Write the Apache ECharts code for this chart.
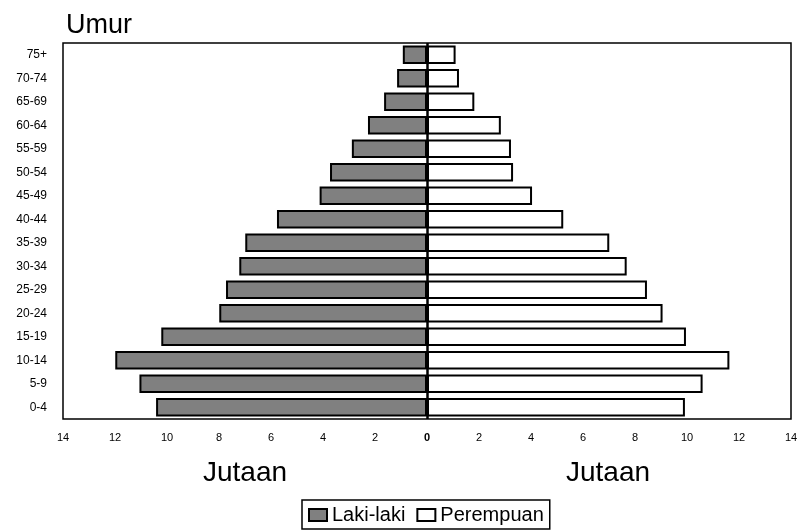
<!DOCTYPE html>
<html>
<head>
<meta charset="utf-8">
<script src="https://cdn.jsdelivr.net/npm/echarts@6/dist/echarts.min.js"></script>
<style>
html,body{margin:0;padding:0;background:#fff;}
#c{width:801px;height:531px;}
</style>
</head>
<body>
<div id="c"></div>
<script>
const ageGroups = ['0-4','5-9','10-14','15-19','20-24','25-29','30-34','35-39','40-44','45-49','50-54','55-59','60-64','65-69','70-74','75+'];
const male = [10.42, 11.06, 11.99, 10.22, 7.99, 7.73, 7.22, 6.99, 5.77, 4.13, 3.73, 2.89, 2.27, 1.65, 1.15, 0.93];
const female = [9.92, 10.60, 11.63, 9.96, 9.06, 8.46, 7.68, 7.01, 5.24, 4.04, 3.31, 3.23, 2.84, 1.82, 1.23, 1.10];
const seriesNames = ['Laki-laki', 'Perempuan'];
const titleText = 'Umur';
const unitText = 'Jutaan';

const FONT = '"Liberation Sans", Arial, sans-serif';
const chart = echarts.init(document.getElementById('c'), null, {renderer: 'canvas'});
chart.setOption({
  animation: false,
  backgroundColor: '#fff',
  textStyle: {fontFamily: FONT, color: '#000'},
  title: {
    text: titleText, left: 61, top: 7,
    textStyle: {fontFamily: FONT, fontSize: 27, fontWeight: 'normal', color: '#000'}
  },
  grid: {
    left: 63, right: 10, top: 43, bottom: 112,
    show: true, borderColor: '#000', borderWidth: 1.5, backgroundColor: 'transparent'
  },
  xAxis: {
    type: 'value', min: -14, max: 14, interval: 2,
    axisLine: {show: false}, axisTick: {show: false}, splitLine: {show: false},
    axisLabel: {
      margin: 13, fontSize: 11, color: '#000', fontFamily: FONT,
      formatter: function (v) { return v === 0 ? '{b|0}' : String(Math.abs(v)); },
      rich: {b: {fontWeight: 'bold', fontSize: 11, fontFamily: FONT, color: '#000'}}
    }
  },
  yAxis: {
    type: 'category', data: ageGroups,
    axisLine: {show: false}, axisTick: {show: false},
    axisLabel: {margin: 16, fontSize: 12, color: '#000', fontFamily: FONT}
  },
  legend: {
    data: seriesNames, bottom: 2, left: 302,
    icon: 'rect', itemWidth: 18, itemHeight: 12, itemGap: 11,
    padding: [5, 6, 4, 6],
    borderColor: '#000', borderWidth: 1.5, backgroundColor: '#fff',
    textStyle: {fontSize: 20, color: '#000', fontFamily: FONT}
  },
  graphic: [
    {type: 'text', left: 203, top: 459, style: {text: unitText, fontSize: 28, fontFamily: FONT, fill: '#000'}},
    {type: 'text', left: 566, top: 459, style: {text: unitText, fontSize: 28, fontFamily: FONT, fill: '#000'}}
  ],
  series: [
    {
      name: seriesNames[0], type: 'bar',
      data: male.map(v => -v),
      barGap: '-100%', barCategoryGap: '21%',
      itemStyle: {color: '#808080', borderColor: '#000', borderWidth: 2}
    },
    {
      name: seriesNames[1], type: 'bar',
      data: female,
      barGap: '-100%', barCategoryGap: '21%',
      itemStyle: {color: '#fff', borderColor: '#000', borderWidth: 2},
      markLine: {
        silent: true, symbol: 'none', label: {show: false},
        lineStyle: {color: '#000', width: 2.5, type: 'solid'},
        data: [{xAxis: 0}]
      }
    }
  ]
});
</script>
</body>
</html>
